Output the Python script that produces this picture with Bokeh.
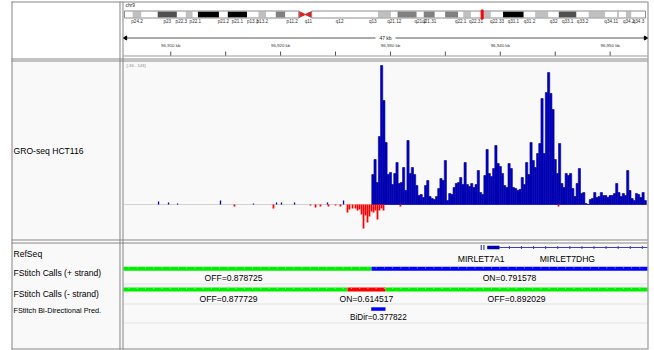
import numpy as np
from bokeh.plotting import figure
from bokeh.models import Range1d
from bokeh.core.properties import value
from bokeh.embed import file_html
from bokeh.resources import INLINE

W, H = 654, 350
FONT = value("Liberation Sans")

# ---------------- data ----------------
CHROM = "chr9"
CHROM_LEN_MB = 141.2
VIEW_START_KB = 96905.7
VIEW_END_KB = 96953.4

# chr9 cytobands (Mb)
band_names = ["p24.3", "p24.2", "p24.1", "p23", "p22.3", "p22.2", "p22.1", "p21.3", "p21.2", "p21.1",
              "p13.3", "p13.2", "p13.1", "p12", "p11.2", "p11.1", "q11", "q12", "q13",
              "q21.11", "q21.12", "q21.13", "q21.2", "q21.31", "q21.32", "q21.33",
              "q22.1", "q22.2", "q22.31", "q22.32", "q22.33", "q31.1", "q31.2", "q31.3", "q32",
              "q33.1", "q33.2", "q33.3", "q34.11", "q34.12", "q34.13", "q34.2", "q34.3"]
band_starts_mb = [0.0, 2.2, 4.6, 9.0, 14.2, 16.6, 18.5, 19.9, 25.6, 28.0,
                  33.2, 36.3, 38.4, 41.0, 43.6, 47.3, 49.0, 50.7, 65.9,
                  68.7, 72.2, 74.0, 79.2, 81.1, 84.1, 86.9,
                  90.4, 91.8, 93.9, 96.6, 99.3, 102.6, 108.2, 111.3, 114.9,
                  117.7, 122.5, 125.8, 130.3, 133.5, 134.0, 135.9, 137.4]
band_stains = ["gneg", "gpos25", "gneg", "gpos75", "gneg", "gpos25", "gneg", "gpos100", "gneg", "gpos100",
               "gneg", "gpos25", "gneg", "gpos50", "gneg", "acen", "acen", "gvar", "gneg",
               "gpos25", "gneg", "gpos50", "gneg", "gpos50", "gneg", "gpos50",
               "gneg", "gpos25", "gneg", "gpos25", "gneg", "gpos100", "gneg", "gpos25", "gneg",
               "gpos75", "gneg", "gpos25", "gneg", "gpos25", "gneg", "gpos25", "gneg"]
band_label_names = ["p24.2", "p23", "p22.3", "p22.1", "p21.2", "p21.1", "p13.3", "p13.2", "p11.2", "q11",
                    "q12", "q13", "q21.12", "q21.2", "q21.31", "q22.1", "q22.31", "q22.33", "q31.1",
                    "q31.2", "q32", "q33.1", "q33.2", "q34.11", "q34.2", "q34.3"]

# ruler
ruler_ticks_kb = [96910, 96915, 96920, 96925, 96930, 96935, 96940, 96945, 96950]
ruler_label_kb = [96910, 96920, 96930, 96940, 96950]
ruler_labels = ["96,910 kb", "96,920 kb", "96,930 kb", "96,940 kb", "96,950 kb"]
span_label = "47 kb"

# GRO-seq HCT116, plus strand, fixed step bedgraph
plus_start_kb = 96928.3
plus_step_kb = 0.2
plus_values = [30, 45, 22, 68, 139, 104, 62, 30, 32, 20,
               31, 42, 21, 22, 37, 14, 64, 31, 37, 30,
               19, 9, 10, 7, 19, 24, 8, 6, 5, 8,
               16, 26, 24, 44, 4, 11, 10, 17, 21, 22,
               27, 20, 42, 20, 18, 21, 17, 20, 34, 12,
               10, 29, 55, 31, 28, 36, 59, 41, 38, 31,
               19, 17, 41, 36, 17, 16, 14, 15, 27, 20,
               42, 30, 62, 44, 37, 51, 61, 106, 51, 112,
               132, 111, 95, 45, 31, 61, 21, 17, 31, 29,
               31, 16, 8, 21, 36, 11, 12, 1, 0, 5,
               6, 12, 7, 8, 12, 9, 9, 7, 9, 9,
               11, 21, 12, 8, 11, 9, 34, 14, 6, 4,
               11, 10, 7, 12, 4]
# isolated plus-strand reads upstream
plus_sparse_kb = [96908.89, 96909.80, 96910.62, 96914.53, 96917.53, 96919.63, 96920.08, 96921.27, 96924.27, 96925.73]
plus_sparse_val = [3, 2, 1, 4, 1, 2, 2, 2, 2, 4]
# minus strand (negative values)
minus_kb = [96915.80, 96919.35, 96922.72, 96923.18, 96923.63, 96924.36, 96925.00, 96925.45, 96926.09, 96926.27,
            96926.55, 96926.82, 96927.00, 96927.18, 96927.37, 96927.55, 96927.73, 96927.91, 96928.09, 96928.28,
            96928.46, 96928.64, 96928.82, 96929.00, 96929.19, 96929.37, 96930.91, 96945.30]
minus_val = [-2, -4, -1, -3, -2, -2, -1, -2, -8, -5,
             -4, -4, -6, -5, -10, -24, -11, -18, -12, -7,
             -8, -6, -15, -6, -4, -6, -2, -2]
SIG_MIN, SIG_MAX = -36, 143

# RefSeq genes
gene_names = ["MIRLET7A1", "MIRLET7F1", "MIRLET7DHG"]
gene_starts_kb = [96938.22, 96938.47, 96938.81]
gene_ends_kb = [96938.30, 96938.55, 96953.43]
gene_exon_ends_kb = [96938.30, 96938.55, 96939.93]

# FStitch calls
plus_call_starts = [96903.15, 96928.28]
plus_call_ends = [96928.28, 96953.40]
plus_call_state = ["OFF", "ON"]
plus_call_score = ["0.878725", "0.791578"]
minus_call_starts = [96904.43, 96926.09, 96929.55]
minus_call_ends = [96926.09, 96929.55, 96953.40]
minus_call_state = ["OFF", "ON", "OFF"]
minus_call_score = ["0.877729", "0.614517", "0.892029"]
bidir_starts = [96928.25]
bidir_ends = [96929.55]
bidir_score = ["0.377822"]

track_names = ["RefSeq", "FStitch Calls (+ strand)", "FStitch Calls (- strand)"]

# ---------------- layout (screen px) ----------------
PANEL_L, NAME_R, DATA_L, PANEL_R = 11, 119, 123, 647
TOP, BOTTOM = 1, 348
SIG_TOP, SIG_BOTTOM = 61, 240
IDEO_L, IDEO_R = 124, 645

kb_px = (VIEW_END_KB - VIEW_START_KB) / (PANEL_R - DATA_L)
mb_px = CHROM_LEN_MB / (IDEO_R - IDEO_L)
u_px = (SIG_MAX - SIG_MIN) / (SIG_BOTTOM - SIG_TOP)

p = figure(width=W, height=H, x_range=Range1d(0, W), y_range=Range1d(H, 0),
           x_axis_type=None, y_axis_type=None, toolbar_location=None,
           output_backend="svg", min_border=0)
p.outline_line_color = None
p.background_fill_color = "white"
p.border_fill_color = "white"
p.extra_x_ranges = {
    "genome": Range1d(VIEW_START_KB - DATA_L * kb_px, VIEW_END_KB + (W - PANEL_R) * kb_px),
    "chrom": Range1d(-IDEO_L * mb_px, CHROM_LEN_MB + (W - IDEO_R) * mb_px),
}
p.extra_y_ranges = {"signal": Range1d(SIG_MIN - (H - SIG_BOTTOM) * u_px, SIG_MAX + SIG_TOP * u_px)}


def txt(x, y, s, size, align="left", color="black", xr="default"):
    p.text(x=x, y=y, text=s, text_font=FONT, text_font_size=f"{size}px",
           text_align=align, text_baseline="middle", text_color=color, x_range_name=xr)


# panel backgrounds
p.quad(left=[PANEL_L, PANEL_L], right=[PANEL_R, PANEL_R], top=[SIG_TOP, 242], bottom=[SIG_BOTTOM, BOTTOM],
       fill_color="#f9f9f9", line_color=None)
# row separators in the feature panel
p.segment(x0=[DATA_L] * 3, x1=[PANEL_R] * 3, y0=[283.5, 303.5, 322.5], y1=[283.5, 303.5, 322.5],
          line_color="#e2e2e2", line_width=1)

# ---------------- header: ideogram ----------------
stain_color = {"gneg": "white", "gvar": "white", "gpos25": "#c0c0c0", "gpos50": "#808080",
               "gpos75": "#505050", "gpos100": "black"}
band_ends_mb = band_starts_mb[1:] + [CHROM_LEN_MB]
IT, IB = 11, 17
solid = [i for i, s in enumerate(band_stains) if s != "acen"]
p.quad(left=[band_starts_mb[i] for i in solid], right=[band_ends_mb[i] for i in solid],
       top=IT, bottom=IB, fill_color=[stain_color[band_stains[i]] for i in solid],
       line_color=None, x_range_name="chrom")
acen = [i for i, s in enumerate(band_stains) if s == "acen"]
cen = band_ends_mb[acen[0]]
p.patches(xs=[[band_starts_mb[acen[0]], cen, band_starts_mb[acen[0]]],
              [band_ends_mb[acen[1]], cen, band_ends_mb[acen[1]]]],
          ys=[[IT, (IT + IB) / 2, IB], [IT, (IT + IB) / 2, IB]],
          fill_color="#e02020", line_color="#e02020", x_range_name="chrom")
# chromosome outline (p arm and q arm)
p_end = band_starts_mb[acen[0]]
q_start = band_ends_mb[acen[1]]
p.quad(left=[0, q_start], right=[p_end, CHROM_LEN_MB], top=IT - 0.5, bottom=IB + 0.5,
       fill_color=None, line_color="#8c8c8c", line_width=1, x_range_name="chrom")
# current view marker
view_mid_mb = (VIEW_START_KB + VIEW_END_KB) / 2 / 1000
p.rect(x=[view_mid_mb], y=[(IT + IB) / 2], width=2, height=9, width_units="screen",
       fill_color="red", line_color="red", line_width=1, x_range_name="chrom")
lab_idx = [band_names.index(n) for n in band_label_names]
txt([(band_starts_mb[i] + band_ends_mb[i]) / 2 for i in lab_idx], [21] * len(lab_idx),
    band_label_names, 4.6, align="center", color="#333333", xr="chrom")
txt([125], [5], [CHROM], 4.8, color="#222222")

# ---------------- header: ruler ----------------
span_mid = (DATA_L + PANEL_R) / 2
p.segment(x0=[DATA_L + 1, span_mid + 10], x1=[span_mid - 10, PANEL_R - 1], y0=[37.5, 37.5], y1=[37.5, 37.5],
          line_color="#555555", line_width=1)
p.scatter(x=[DATA_L + 2, PANEL_R - 2], y=[37.5, 37.5], marker="triangle", size=4,
          angle=[np.pi / 2, -np.pi / 2], fill_color="black", line_color="black")
txt([span_mid], [37.5], [span_label], 5, align="center", color="#222222")
p.segment(x0=ruler_ticks_kb, x1=ruler_ticks_kb, y0=[51] * len(ruler_ticks_kb), y1=[55.5] * len(ruler_ticks_kb),
          line_color="#555555", line_width=1, x_range_name="genome")
p.segment(x0=[DATA_L], x1=[PANEL_R], y0=[55.5], y1=[55.5], line_color="#9a9a9a", line_width=1)
txt(ruler_label_kb, [45] * len(ruler_label_kb), ruler_labels, 4.4, align="center", color="#333333", xr="genome")

# ---------------- GRO-seq signal ----------------
p.segment(x0=[DATA_L], x1=[PANEL_R], y0=[0], y1=[0], line_color="#d2d2d2", line_width=1,
          y_range_name="signal")
left = plus_start_kb + plus_step_kb * np.arange(len(plus_values))
p.quad(left=left, right=left + plus_step_kb, bottom=0, top=plus_values,
       fill_color="#0000b2", line_color="#0000b2", line_width=0.6,
       x_range_name="genome", y_range_name="signal")
sp = np.array(plus_sparse_kb)
p.quad(left=sp - 0.06, right=sp + 0.06, bottom=0, top=plus_sparse_val,
       fill_color="#0000b2", line_color=None, x_range_name="genome", y_range_name="signal")
mk = np.array(minus_kb)
p.quad(left=mk - 0.08, right=mk + 0.08, top=0, bottom=minus_val,
       fill_color="#ff0000", line_color=None, x_range_name="genome", y_range_name="signal")
txt([126], [64.5], [f"[{SIG_MIN} - {SIG_MAX}]"], 4.2, color="#8a8a8a")
txt([13], [150], ["GRO-seq HCT116"], 8.6)

# ---------------- RefSeq ----------------
GY = 247
for i, name in enumerate(gene_names):
    s, e, xe = gene_starts_kb[i], gene_ends_kb[i], gene_exon_ends_kb[i]
    if e > xe:
        p.segment(x0=[xe], x1=[min(e, VIEW_END_KB)], y0=[GY], y1=[GY], line_color="#3c3cd2",
                  line_width=1, x_range_name="genome")
        marks = np.arange(xe + 0.9, min(e, VIEW_END_KB) - 0.3, 1.1)
        p.segment(x0=marks, x1=marks, y0=GY - 1.5, y1=GY + 1.5, line_color="#3c3cd2",
                  line_width=1, x_range_name="genome")
        p.quad(left=[s], right=[xe], top=GY - 1.7, bottom=GY + 1.7, fill_color="#0000b2",
               line_color=None, x_range_name="genome")
    else:
        p.quad(left=[s], right=[xe], top=GY - 2.5, bottom=GY + 2.5, fill_color="#0000b2",
               line_color=None, x_range_name="genome")
# gene labels, skipping ones that would collide
shown, last_px = [], -1e9
for i, name in enumerate(gene_names):
    mid = (gene_starts_kb[i] + min(gene_ends_kb[i], VIEW_END_KB)) / 2
    px = DATA_L + (mid - VIEW_START_KB) / kb_px
    if px - last_px > 40:
        shown.append((mid, name))
        last_px = px
txt([m for m, _ in shown], [258.5] * len(shown), [n for _, n in shown], 8.6, align="center", xr="genome")

# ---------------- FStitch calls ----------------
def calls(starts, ends, states, scores, on_color, y_bar, y_lab):
    lft = [max(s, VIEW_START_KB) for s in starts]
    rgt = [min(e, VIEW_END_KB) for e in ends]
    cols = [on_color if st == "ON" else "#00ee00" for st in states]
    p.quad(left=lft, right=rgt, top=y_bar - 2, bottom=y_bar + 2, fill_color=cols, line_color=None,
           x_range_name="genome")
    marks = np.arange(VIEW_START_KB + 0.5, VIEW_END_KB, 0.75)
    p.segment(x0=marks, x1=marks, y0=y_bar - 1.5, y1=y_bar - 0.5, line_color="white", line_alpha=0.55,
              line_width=1, x_range_name="genome")
    mids = [(s + e) / 2 for s, e in zip(starts, ends)]
    txt(mids, [y_lab] * len(mids), [f"{st}={sc}" for st, sc in zip(states, scores)], 8.6,
        align="center", xr="genome")


calls(plus_call_starts, plus_call_ends, plus_call_state, plus_call_score, "#0000ff", 268.3, 277)
calls(minus_call_starts, minus_call_ends, minus_call_state, minus_call_score, "#ff0000", 289, 298.5)
p.quad(left=bidir_starts, right=bidir_ends, top=306.8, bottom=310.3, fill_color="#0000ff",
       line_color=None, x_range_name="genome")
txt([(s + e) / 2 for s, e in zip(bidir_starts, bidir_ends)], [316.5], [f"BiDir={bidir_score[0]}"],
    8.2, align="center", xr="genome")

# track names
txt([13] * 3, [253, 272, 293], track_names, 8.6)
txt([13], [310], ["FStitch Bi-Directional Pred."], 7.3)

# ---------------- panel borders ----------------
BC = "#858585"
p.segment(x0=[PANEL_L] * 6, x1=[PANEL_R] * 6, y0=[TOP + .5, 58.5, 60.5, 239.5, 242.5, BOTTOM + .5],
          y1=[TOP + .5, 58.5, 60.5, 239.5, 242.5, BOTTOM + .5], line_color=BC, line_width=1)
p.segment(x0=[PANEL_L + .5, NAME_R + .5, DATA_L - .5, PANEL_R + .5],
          x1=[PANEL_L + .5, NAME_R + .5, DATA_L - .5, PANEL_R + .5],
          y0=[TOP] * 4, y1=[BOTTOM + 1] * 4, line_color=BC, line_width=1)

open("out.html", "w").write(file_html(p, INLINE))
